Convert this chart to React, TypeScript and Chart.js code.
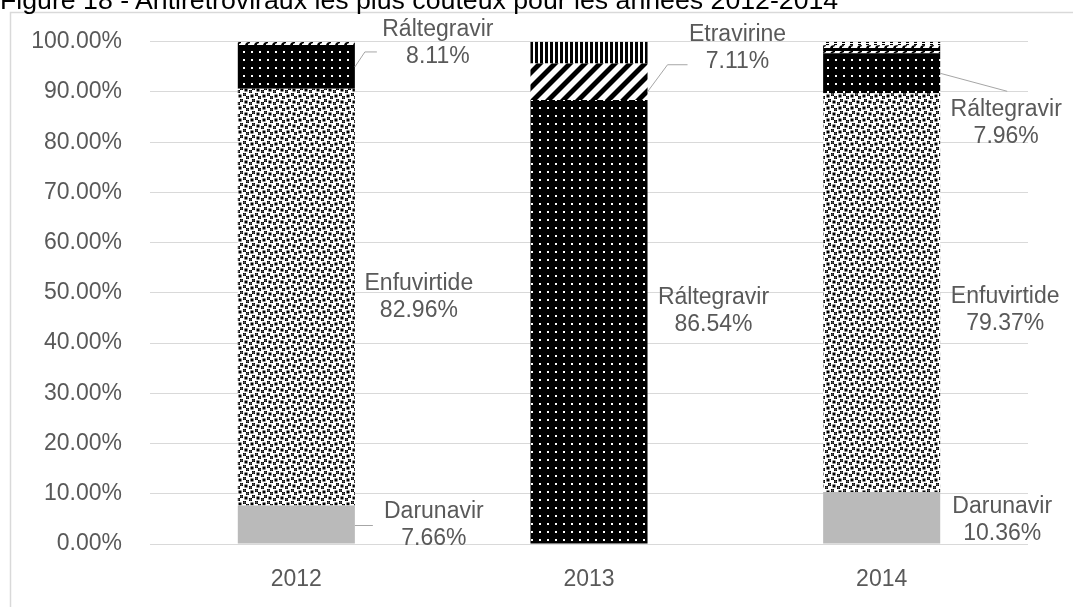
import React, { useEffect, useRef } from 'react';
import { Chart, registerables } from 'chart.js';

Chart.register(...registerables);

// ---------- data ----------
const years = ['2012', '2013', '2014'];
const darunavir = [7.66, 0, 10.36];
const enfuvirtide = [82.96, 0, 79.37];
const raltegravir = [8.11, 86.54, 7.96];
const etravirine = [0, 7.11, 0];
const autreVagues = [1.27, 0, 1.61];
const autreRayures = [0, 4.25, 0];
const autrePoints = [0, 0, 0.7];
const yTickValues = [0, 10, 20, 30, 40, 50, 60, 70, 80, 90, 100];
const titleText = 'Figure 18 - Antirétroviraux les plus coûteux pour les années 2012-2014';

const FONT = '"Liberation Sans", Arial, sans-serif';
const TEXT = '#595959';
const FS = 23;

type Spec = {
  key: string;
  year: number;
  name: string;
  dx: number;
  dy: number;
  leader?: number[][];
};

// label placement (offsets relative to the bar segment's right edge / centre)
const labelSpecs: Spec[] = [
  { key: 'darunavir', year: 0, name: 'Darunavir', dx: 79, dy: 1, leader: [[0, 1], [18, 1]] },
  { key: 'enfuvirtide', year: 0, name: 'Enfuvirtide', dx: 64, dy: 0 },
  { key: 'raltegravir', year: 0, name: 'Ráltegravir', dx: 83, dy: -25, leader: [[0, -1.5], [10, -16.5], [22, -16.5]] },
  { key: 'raltegravir', year: 1, name: 'Ráltegravir', dx: 66, dy: -10.5 },
  { key: 'etravirine', year: 1, name: 'Etravirine', dx: 90, dy: -34, leader: [[0, 10], [20, -17], [40, -17]] },
  { key: 'darunavir', year: 2, name: 'Darunavir', dx: 62, dy: 2 },
  { key: 'enfuvirtide', year: 2, name: 'Enfuvirtide', dx: 65, dy: 18 },
  { key: 'raltegravir', year: 2, name: 'Ráltegravir', dx: 66, dy: 50, leader: [[0, 0], [67, 18]] },
];

// ---------- patterns ----------
function tile(w: number, h: number, draw: (c: CanvasRenderingContext2D) => void, ty = 0): CanvasPattern {
  const cv = document.createElement('canvas');
  cv.width = w;
  cv.height = h;
  const c = cv.getContext('2d')!;
  draw(c);
  const p = c.createPattern(cv, 'repeat')!;
  if (ty) p.setTransform(new DOMMatrix([1, 0, 0, 1, 0, ty]));
  return p;
}

function makePatterns() {
  const confettiBits = [0x8d, 0x0c, 0xc0, 0xd8, 0x1b, 0x03, 0x30, 0xb1];
  const confetti = tile(12, 12, (c) => {
    c.fillStyle = '#fff';
    c.fillRect(0, 0, 12, 12);
    c.fillStyle = '#000';
    confettiBits.forEach((row, y) => {
      for (let x = 0; x < 8; x++) {
        if (row & (0x80 >> x)) c.fillRect(x * 1.5, y * 1.5, 1.5, 1.5);
      }
    });
  });
  const dots = tile(8, 8, (c) => {
    c.fillStyle = '#000';
    c.fillRect(0, 0, 8, 8);
    c.fillStyle = '#fff';
    c.fillRect(3, 3, 2, 2);
  });
  const diag = tile(15, 15, (c) => {
    c.fillStyle = '#fff';
    c.fillRect(0, 0, 15, 15);
    c.fillStyle = '#000';
    for (const o of [-15, 0, 15]) {
      c.beginPath();
      c.moveTo(o, 15);
      c.lineTo(o + 7, 15);
      c.lineTo(o + 22, 0);
      c.lineTo(o + 15, 0);
      c.closePath();
      c.fill();
    }
  });
  const vert = tile(5, 4, (c) => {
    c.fillStyle = '#fff';
    c.fillRect(0, 0, 5, 4);
    c.fillStyle = '#000';
    c.fillRect(0, 0, 3, 4);
  });
  const waveDraw = (c: CanvasRenderingContext2D) => {
    c.fillStyle = '#fff';
    c.fillRect(0, 0, 9, 6);
    c.fillStyle = '#000';
    c.fillRect(0, 3, 9, 3);
    c.beginPath();
    c.moveTo(2, 3);
    c.lineTo(3, 1);
    c.lineTo(5, 0);
    c.lineTo(7, 0);
    c.lineTo(7, 1);
    c.lineTo(5, 2);
    c.lineTo(5, 3);
    c.closePath();
    c.fill();
  };
  const waveA = tile(9, 6, waveDraw);
  const waveB = tile(9, 6, waveDraw, 3);
  const squares = tile(8, 4, (c) => {
    c.fillStyle = '#fff';
    c.fillRect(0, 0, 8, 4);
    c.fillStyle = '#000';
    c.fillRect(2, 0, 3, 3);
  });
  return { confetti, dots, diag, vert, waveA, waveB, squares };
}

export default function App() {
  const ref = useRef<HTMLCanvasElement | null>(null);

  useEffect(() => {
    if (!ref.current) return;
    const p = makePatterns();
    const raw: Record<string, number[]> = {
      darunavir,
      enfuvirtide,
      raltegravir,
      etravirine,
      autreVagues,
      autreRayures,
      autrePoints,
    };
    const totals = years.map((_, i) => Object.values(raw).reduce((s, arr) => s + arr[i], 0));
    const pct = (arr: number[]) => arr.map((v, i) => (v / totals[i]) * 100);

    const series: { key: string; label: string; bg: any }[] = [
      { key: 'darunavir', label: 'Darunavir', bg: '#bababa' },
      { key: 'enfuvirtide', label: 'Enfuvirtide', bg: p.confetti },
      { key: 'raltegravir', label: 'Ráltegravir', bg: p.dots },
      { key: 'etravirine', label: 'Etravirine', bg: p.diag },
      { key: 'autreVagues', label: 'Autre', bg: [p.waveA, p.waveA, p.waveB] },
      { key: 'autreRayures', label: 'Autre 2', bg: p.vert },
      { key: 'autrePoints', label: 'Autre 3', bg: p.squares },
    ];

    const labelPlugin = {
      id: 'labels',
      beforeDraw(chart: any) {
        const ctx = chart.ctx;
        ctx.save();
        ctx.fillStyle = '#fff';
        ctx.fillRect(0, 0, chart.width, chart.height);
        ctx.strokeStyle = '#d9d9d9';
        ctx.lineWidth = 1.5;
        ctx.strokeRect(10.5, 12.5, 3000, 3000);
        ctx.restore();
      },
      afterDatasetsDraw(chart: any) {
        const ctx = chart.ctx;
        ctx.save();
        ctx.font = `${FS}px ${FONT}`;
        ctx.textAlign = 'center';
        ctx.textBaseline = 'middle';
        for (const s of labelSpecs) {
          const di = series.findIndex((d) => d.key === s.key);
          const el = chart.getDatasetMeta(di).data[s.year];
          const { x, y, base, width } = el.getProps(['x', 'y', 'base', 'width'], true);
          const rx = x + width / 2;
          const yc = (y + base) / 2;
          if (s.leader) {
            ctx.strokeStyle = '#a6a6a6';
            ctx.lineWidth = 1;
            ctx.beginPath();
            s.leader.forEach(([lx, ly], k) => {
              if (k === 0) ctx.moveTo(rx + lx, yc + ly);
              else ctx.lineTo(rx + lx, yc + ly);
            });
            ctx.stroke();
          }
          const v = raw[s.key][s.year];
          ctx.fillStyle = TEXT;
          ctx.fillText(s.name, rx + s.dx, yc + s.dy - 13.5);
          ctx.fillText(v.toFixed(2) + '%', rx + s.dx, yc + s.dy + 13.5);
        }
        ctx.restore();
      },
    };

    const chart = new Chart(ref.current, {
      type: 'bar',
      data: {
        labels: years,
        datasets: series.map((s) => ({
          label: s.label,
          data: pct(raw[s.key]),
          backgroundColor: s.bg,
          borderWidth: 0,
          barPercentage: 0.4,
          categoryPercentage: 1,
        })),
      },
      options: {
        animation: false,
        responsive: false,
        devicePixelRatio: 1,
        layout: { padding: { top: 41.7, right: 45, left: 0, bottom: 0 } },
        plugins: { legend: { display: false }, tooltip: { enabled: false }, title: { display: false } },
        scales: {
          x: {
            stacked: true,
            grid: { display: false },
            border: { display: false },
            ticks: { color: TEXT, font: { size: FS, family: FONT }, padding: 14 },
            afterFit: (a: any) => {
              a.height = 63;
              a.paddingLeft = 0;
              a.paddingRight = 0;
            },
          },
          y: {
            stacked: true,
            min: 0,
            max: 100,
            grid: { color: '#d9d9d9', drawTicks: false, lineWidth: 1 },
            border: { display: false },
            afterBuildTicks: (a: any) => {
              a.ticks = yTickValues.map((v) => ({ value: v }));
            },
            ticks: {
              color: TEXT,
              font: { size: FS, family: FONT },
              padding: 28,
              callback: (v: any) => Number(v).toFixed(2) + '%',
            },
            afterFit: (a: any) => {
              a.width = 150;
              a.paddingTop = 0;
              a.paddingBottom = 0;
            },
          },
        },
      },
      plugins: [labelPlugin],
    });
    return () => chart.destroy();
  }, []);

  return (
    <div style={{ position: 'fixed', left: 0, top: 0, width: 1073, height: 607, overflow: 'hidden', background: '#fff' }}>
      <canvas ref={ref} width={1073} height={607} style={{ display: 'block' }} />
      <div
        style={{
          position: 'absolute',
          left: 0,
          top: -13,
          font: `26.7px ${FONT}`,
          lineHeight: '26.7px',
          color: '#000',
          whiteSpace: 'nowrap',
        }}
      >
        {titleText}
      </div>
    </div>
  );
}
